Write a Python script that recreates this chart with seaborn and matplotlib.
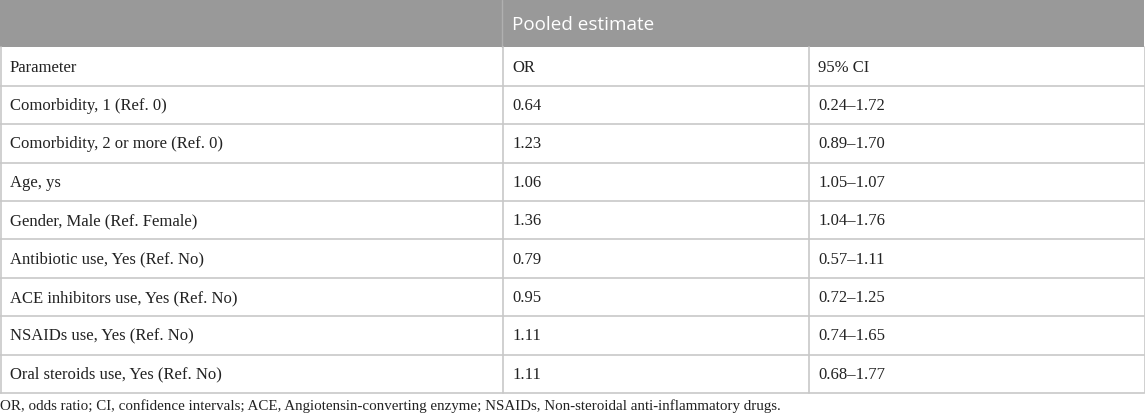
import matplotlib
matplotlib.use("Agg")
import matplotlib.pyplot as plt
import seaborn as sns

group_header = "Pooled estimate"
col_headers = ["Parameter", "OR", "95% CI"]
parameters = [
    "Comorbidity, 1 (Ref. 0)",
    "Comorbidity, 2 or more (Ref. 0)",
    "Age, ys",
    "Gender, Male (Ref. Female)",
    "Antibiotic use, Yes (Ref. No)",
    "ACE inhibitors use, Yes (Ref. No)",
    "NSAIDs use, Yes (Ref. No)",
    "Oral steroids use, Yes (Ref. No)",
]
odds_ratio = ["0.64", "1.23", "1.06", "1.36", "0.79", "0.95", "1.11", "1.11"]
ci_95 = ["0.24\u20131.72", "0.89\u20131.70", "1.05\u20131.07", "1.04\u20131.76",
         "0.57\u20131.11", "0.72\u20131.25", "0.74\u20131.65", "0.68\u20131.77"]
footnote = ("OR, odds ratio; CI, confidence intervals; ACE, Angiotensin-converting enzyme; "
            "NSAIDs, Non-steroidal anti-inflammatory drugs.")

sns.set_theme(style="white")
plt.rcParams['font.family'] = ['Liberation Serif', 'DejaVu Serif']

W, H = 1145, 419
col_x = [0, 502, 808, 1144]
header_h = 47.5
table_bottom = 393
n_rows = len(parameters) + 1
row_h = (table_bottom - header_h) / n_rows
line_c = "#c8c8c8"

fig = plt.figure(figsize=(W / 100, H / 100), dpi=100)
ax = fig.add_axes([0, 0, 1, 1])
ax.set_xlim(0, W)
ax.set_ylim(H, 0)
ax.axis("off")

# header band
ax.fill_between([0, col_x[-1]], 0, header_h, color="#999999", lw=0)
ax.plot([col_x[1], col_x[1]], [0, header_h], color="#b0b0b0", lw=1)
ax.text(col_x[1] + 10, header_h / 2 + 1, group_header, color="white",
        fontsize=13.6, family=["Open Sans", "DejaVu Sans"], va="center", ha="left")

# body rows
rows = [col_headers] + [[p, o, c] for p, o, c in zip(parameters, odds_ratio, ci_95)]
for i, row in enumerate(rows):
    y0 = header_h + i * row_h
    for j, val in enumerate(row):
        ax.text(col_x[j] + 10, y0 + row_h / 2 + 1, val, fontsize=12,
                color="#222222", va="center", ha="left")
    ax.plot([0, col_x[-1]], [y0 + row_h, y0 + row_h], color=line_c, lw=1.2)

# vertical lines
for x in col_x:
    ax.plot([x + 0.5, x + 0.5], [header_h, table_bottom], color=line_c, lw=1.2)

ax.text(0, 406, footnote, fontsize=10.8, color="#222222", va="center", ha="left")

fig.savefig("out.png", dpi=100)
